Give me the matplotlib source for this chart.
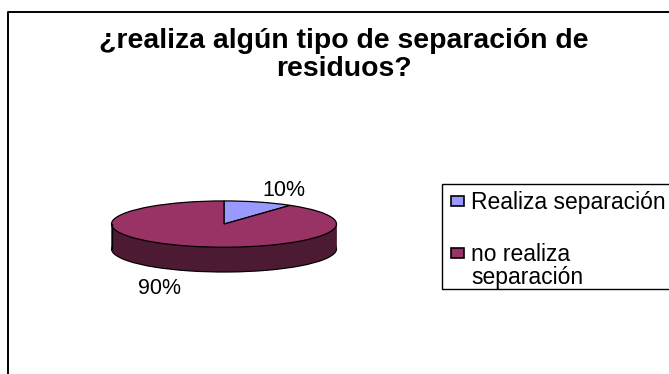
import numpy as np
from matplotlib import pyplot as plt
from matplotlib.patches import Rectangle

labels = ['Realiza separación', 'no realiza\nseparación']
values = [10, 90]
pct_labels = ['10%', '90%']
title = '¿realiza algún tipo de separación de\nresiduos?'
colors = ['#9999FF', '#993366']
dark_colors = ['#4D4D80', '#4D1A33']

W, H = 669, 374
plt.rcParams['font.family'] = ['Liberation Sans', 'DejaVu Sans']

fig = plt.figure(figsize=(W / 100, H / 100), dpi=100)

def fx(px):
    return px / W

def fy(py):
    return 1 - py / H

# chart border, only left and top fall inside the crop
fig.add_artist(plt.Line2D([fx(8), fx(8), 1], [0, fy(11.5), fy(11.5)], color='black', lw=1.4))

fig.text(fx(344), fy(55.5), title, ha='center', va='center', fontsize=20.4, fontweight='bold',
         linespacing=1.1, color='black')

# pie squeezed into a flat axes, 1 data unit = 112.5 px in x and 23 px in y
ax = fig.add_axes([fx(111.5), fy(275), 225 / W, 75 / H])
depth = 1.07
ax.pie(values, colors=dark_colors, center=(0, -depth), startangle=90, counterclock=False,
       wedgeprops={'edgecolor': 'black', 'linewidth': 0.9})
for off in np.arange(depth - 0.04, 0, -0.04):
    ax.pie(values, colors=dark_colors, center=(0, -off), startangle=90, counterclock=False)
ax.plot([-1, -1], [0, -depth], color='black', lw=0.9)
ax.plot([1, 1], [0, -depth], color='black', lw=0.9)
ax.pie(values, colors=colors, startangle=90, counterclock=False,
       wedgeprops={'edgecolor': 'black', 'linewidth': 0.9})
ax.set_aspect('auto')
ax.set_xlim(-1, 1)
ax.set_ylim(-2.2, 1.04)
ax.axis('off')

fig.text(fx(283.5), fy(190.5), pct_labels[0], ha='center', va='center', fontsize=15.5)
fig.text(fx(159.5), fy(288.5), pct_labels[1], ha='center', va='center', fontsize=15.5)

# legend built by hand, its box runs up to the right edge of the crop
fig.add_artist(Rectangle((fx(442), fy(289)), 1.0, 105 / H, transform=fig.transFigure,
                         facecolor='white', edgecolor='black', lw=1.0))
fig.add_artist(Rectangle((fx(451.5), fy(206)), 13 / W, 10 / H, transform=fig.transFigure,
                         facecolor=colors[0], edgecolor='black', lw=1.2))
fig.add_artist(Rectangle((fx(451.5), fy(258)), 13 / W, 10 / H, transform=fig.transFigure,
                         facecolor=colors[1], edgecolor='black', lw=1.2))
fig.text(fx(471), fy(202), labels[0], ha='left', va='center', fontsize=16.5)
fig.text(fx(471), fy(266), labels[1], ha='left', va='center', fontsize=16.5, linespacing=1.0)

fig.savefig('out.png', dpi=100)
